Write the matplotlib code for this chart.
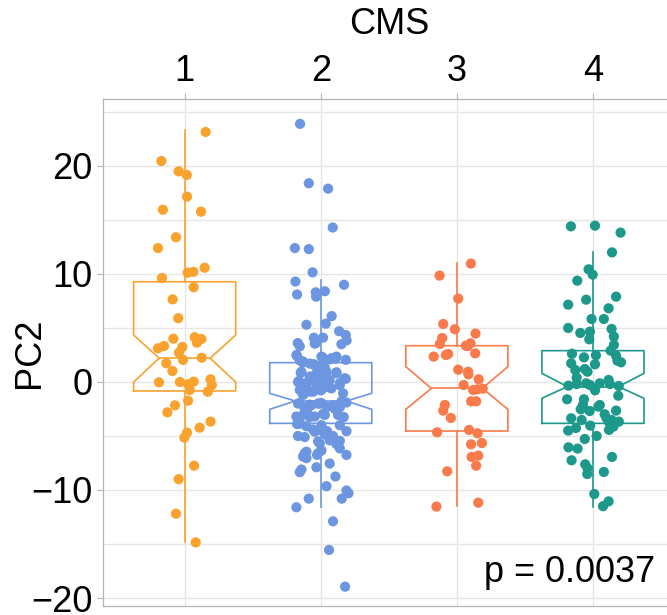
import matplotlib
matplotlib.use("Agg")
import matplotlib.pyplot as plt

plt.rcParams['font.family'] = ['Liberation Sans', 'DejaVu Sans']

# ================= DATA =================
CMS = [1, 2, 3, 4]
COLORS = ['#F9A22E', '#6C97E0', '#F97A4B', '#1D998B']
P_LABEL = "p = 0.0037"

# box summary per subtype (notch = median confidence interval)
box_q1 = [-0.83, -3.83, -4.54, -3.83]
box_med = [2.2, -1.76, -0.59, -0.43]
box_q3 = [9.28, 1.79, 3.36, 2.9]
notch_lo = [0.0, -2.53, -2.53, -1.51]
notch_hi = [4.35, -1.05, 1.42, 0.8]
whisk_lo = [-14.8, -11.54, -11.48, -11.54]
whisk_hi = [23.3, 9.44, 11.05, 12.0]

# jittered samples: (x, PC2)
cms1_x = [1.154, 0.829, 0.956, 1.015, 1.017, 0.84, 1.12, 0.936, 0.804, 1.147,
          1.064, 1.022, 0.833, 1.066, 0.912, 0.953, 0.917, 1.074, 1.123, 1.09,
          0.804, 0.848, 0.983, 0.958, 0.988, 1.125, 0.865, 0.91, 0.811, 0.965,
          1.066, 1.025, 1.19, 1.2, 1.037, 1.17, 1.025, 0.929, 0.873, 1.19,
          1.11, 1.017, 0.998, 1.069, 0.956, 0.936, 1.081]
cms1_y = [23.15, 20.46, 19.5, 19.17, 17.16, 15.95, 15.77, 13.4, 12.4, 10.58,
          10.2, 10.12, 9.63, 8.77, 7.65, 5.9, 4.01, 4.14, 3.98, 3.64,
          3.12, 3.33, 3.24, 2.72, 2.04, 2.25, 1.73, 1.02, -0.03, 0.0,
          0.03, -0.21, 0.25, -0.28, -0.74, -0.9, -1.73, -2.16, -2.81, -3.67,
          -4.23, -4.69, -5.15, -7.75, -9.0, -12.19, -14.85]

cms2_x = [1.848, 1.912, 2.054, 2.088, 1.81, 1.912, 1.94, 1.814, 2.171, 1.826,
          1.963, 1.966, 2.03, 2.08, 1.895, 2.037, 2.135, 2.184, 2.19, 1.949,
          2.017, 1.831, 1.963, 2.152, 1.846, 1.956,
          1.821, 1.826, 1.846, 1.868, 1.87, 1.92, 1.949, 1.956, 2.005, 2.012,
          2.03, 2.066, 2.08, 2.108, 2.115, 2.184, 1.993, 2.03, 1.853, 1.858,
          1.919, 1.961, 1.98, 2.012, 2.042, 2.115, 2.115, 2.176, 2.184, 1.84,
          1.833, 1.895, 1.926, 1.956, 1.968, 2.017, 2.061, 2.066, 2.14,
          1.853, 1.846, 1.907, 1.919, 1.993, 2.005, 2.046, 2.078, 2.14, 1.87,
          1.943, 2.164, 1.833, 1.846, 1.882, 1.919, 1.932, 1.993, 2.005, 2.046,
          2.09, 2.103, 2.14, 2.152, 2.189, 1.98,
          1.821, 1.87, 1.905, 1.919, 1.956, 2.017, 2.03, 2.127, 2.169, 1.826,
          1.895, 1.85, 2.005, 2.14, 1.943, 1.993, 2.046, 2.189, 1.956, 1.833,
          1.882, 2.037, 2.09, 2.03,
          1.993, 1.98, 2.14, 2.115, 2.066, 1.895, 1.882, 2.005, 1.973, 1.98,
          2.14, 1.882, 1.87, 1.895, 2.189, 2.066, 1.968, 2.108, 1.858, 1.846,
          2.042, 2.189, 1.912, 2.154, 2.204, 1.821, 2.09, 2.061, 2.179]
cms2_y = [23.9, 18.4, 17.9, 14.3, 12.4, 12.3, 10.15, 9.3, 9.0, 8.1,
          8.3, 7.9, 8.4, 6.1, 5.3, 5.4, 4.7, 4.35, 3.85, 4.1,
          4.1, 3.6, 3.6, 3.5, 3.3, 3.55,
          2.5, 2.4, 2.0, 1.8, 1.9, 1.7, 1.65, 1.55, 2.35, 2.3,
          2.05, 2.1, 2.2, 2.15, 2.35, 2.05, 1.5, 1.3, 0.85, 0.95,
          0.5, 0.7, 0.8, 0.65, 0.95, 0.9, 0.8, 0.35, 0.3, 0.1,
          0.0, -0.1, 0.2, 0.05, -0.2, -0.1, 0.2, 0.15, -0.1,
          -0.6, -0.75, -0.75, -0.9, -0.75, -0.75, -0.45, -0.6, -0.3, -1.2,
          -0.9, -1.05, -2.0, -1.95, -2.45, -2.1, -2.15, -2.0, -1.95, -2.3,
          -2.15, -2.5, -2.35, -1.8, -1.9, -2.0,
          -3.2, -3.05, -2.9, -3.25, -3.2, -2.95, -3.05, -3.05, -3.25, -3.9,
          -4.1, -3.85, -4.0, -4.0, -4.4, -4.45, -4.55, -4.55, -4.6, -5.0,
          -5.1, -4.9, -5.0, -4.75,
          -5.7, -5.5, -5.45, -5.75, -5.4, -6.45, -6.6, -6.35, -6.75, -6.6,
          -6.15, -6.85, -6.9, -7.05, -6.75, -7.55, -7.9, -8.75, -8.1, -8.35,
          -9.65, -10.05, -10.8, -10.8, -10.3, -11.6, -12.9, -15.55, -18.95]

cms3_x = [3.103, 2.873, 3.01, 2.9, 2.985, 3.137, 2.892, 2.875, 3.066, 3.10,
          3.08, 2.83, 2.936, 2.919, 3.135, 3.01, 3.083, 3.085, 3.16, 3.05,
          3.12, 3.152, 3.19, 3.105, 3.142, 2.912, 2.9, 2.956, 2.855, 3.09,
          3.152, 3.105, 3.184, 3.108, 3.157, 3.142, 2.929, 2.85, 3.157]
cms3_y = [10.96, 9.85, 7.72, 5.37, 4.88, 4.48, 4.07, 3.52, 3.36, 3.58,
          3.33, 2.35, 2.59, 2.5, 2.65, 1.14, 0.95, 0.71, 0.25, -0.28,
          -0.74, -0.68, -0.62, -1.79, -1.79, -2.13, -2.65, -3.33, -4.66, -4.44,
          -4.75, -5.77, -5.65, -6.94, -6.82, -7.75, -8.27, -11.54, -11.17]

cms4_x = [3.838, 4.015, 4.203, 4.14, 3.968, 3.998, 3.885, 3.818, 3.95, 4.17,
          4.115, 3.99, 4.08, 3.818, 3.907, 3.978, 3.973, 4.137, 4.154, 4.154,
          4.13, 3.846, 3.934, 4.022, 4.17, 4.18, 4.206, 3.84, 4.015, 3.87,
          3.94, 3.96, 3.88, 3.82, 3.88, 3.95, 3.978, 4.05, 4.115, 4.125,
          4.015, 4.19, 4.186, 3.81, 3.934, 3.926, 3.91, 3.976, 4.04, 4.05,
          4.17, 4.086, 4.1, 4.12, 4.137, 4.19, 4.118, 4.15, 3.84, 3.917,
          3.98, 3.818, 3.875, 3.94, 4.027, 3.82, 3.887, 3.843, 4.14, 3.943,
          3.96, 3.958, 4.08, 4.01, 4.115, 4.074]
cms4_y = [14.41, 14.47, 13.83, 12.0, 10.43, 9.94, 9.38, 7.16, 7.62, 7.9,
          6.82, 5.83, 5.83, 5.0, 4.54, 4.66, 3.95, 4.91, 4.2, 3.43,
          2.9, 2.62, 2.28, 2.47, 2.44, 1.97, 1.82, 1.73, 1.64, 1.11,
          1.2, 0.95, 0.4, -0.34, -0.19, -0.12, -0.28, -0.12, 0.19, -0.19,
          -0.77, -0.37, -1.27, -1.6, -1.6, -2.13, -2.53, -2.69, -2.28, -2.13,
          -2.65, -2.99, -3.36, -3.77, -3.52, -3.67, -4.44, -4.13, -3.36, -3.52,
          -4.04, -4.5, -4.26, -5.28, -5.0, -6.05, -6.17, -7.25, -6.94, -7.62,
          -7.99, -8.52, -8.33, -10.37, -11.05, -11.5]

points_x = [cms1_x, cms2_x, cms3_x, cms4_x]
points_y = [cms1_y, cms2_y, cms3_y, cms4_y]

# ================= FIGURE =================
W, H = 667, 615
FS = 26
fig = plt.figure(figsize=(W / 100, H / 100), dpi=100)
ax = fig.add_axes([103 / W, 9 / H, 571.6 / W, 507 / H])

GRID = '#E6E6E6'
BORDER = '#B5B5B5'

ax.set_xlim(0.4, 4.6)
ax.set_ylim(-20.74, 26.2)
ax.set_xticks(CMS)
ax.set_xticklabels([str(c) for c in CMS])
ax.set_yticks([-20, -10, 0, 10, 20])
ax.set_yticks([-15, -5, 5, 15, 25], minor=True)
ax.grid(True, which='major', color=GRID, lw=1.0, zorder=0)
ax.grid(True, which='minor', axis='y', color=GRID, lw=1.0, zorder=0)
ax.set_axisbelow(True)

ax.xaxis.tick_top()
ax.tick_params(axis='both', which='major', labelsize=FS, color=BORDER,
               length=4.5, width=0.8, pad=3)
ax.tick_params(axis='y', which='minor', length=0)
for side in ['left', 'top', 'bottom', 'right']:
    ax.spines[side].set_color(BORDER)
    ax.spines[side].set_linewidth(0.9)

# ================= BOXES =================
stats = []
for i in range(len(CMS)):
    stats.append({
        'med': box_med[i], 'q1': box_q1[i], 'q3': box_q3[i],
        'cilo': notch_lo[i], 'cihi': notch_hi[i],
        'whislo': whisk_lo[i], 'whishi': whisk_hi[i], 'fliers': [],
    })

bp = ax.bxp(stats, positions=CMS, widths=0.75, shownotches=True,
            showfliers=False, showcaps=False, manage_ticks=False)
for i, c in enumerate(COLORS):
    bp['boxes'][i].set(color=c, lw=1.2, zorder=2)
    bp['medians'][i].set(color=c, lw=1.2, zorder=2)
    for w in bp['whiskers'][2 * i:2 * i + 2]:
        w.set(color=c, lw=1.2, zorder=2)

# ================= POINTS =================
for xs, ys, c in zip(points_x, points_y, COLORS):
    ax.scatter(xs, ys, s=54, color=c, edgecolors='none', zorder=3)

ax.text(0.966, 0.067, P_LABEL, transform=ax.transAxes, ha='right',
        va='center', fontsize=FS)

ax.set_xlabel('CMS', fontsize=FS)
ax.xaxis.set_label_position('top')
ax.xaxis.label.set_va('center')
ax.xaxis.set_label_coords(0.5, (606 - 25) / 507)
ax.set_ylabel('PC2', fontsize=FS)
ax.yaxis.label.set_va('center')
ax.yaxis.set_label_coords((29 - 103) / 571.6, 0.5)

fig.savefig('out.png', dpi=100)
